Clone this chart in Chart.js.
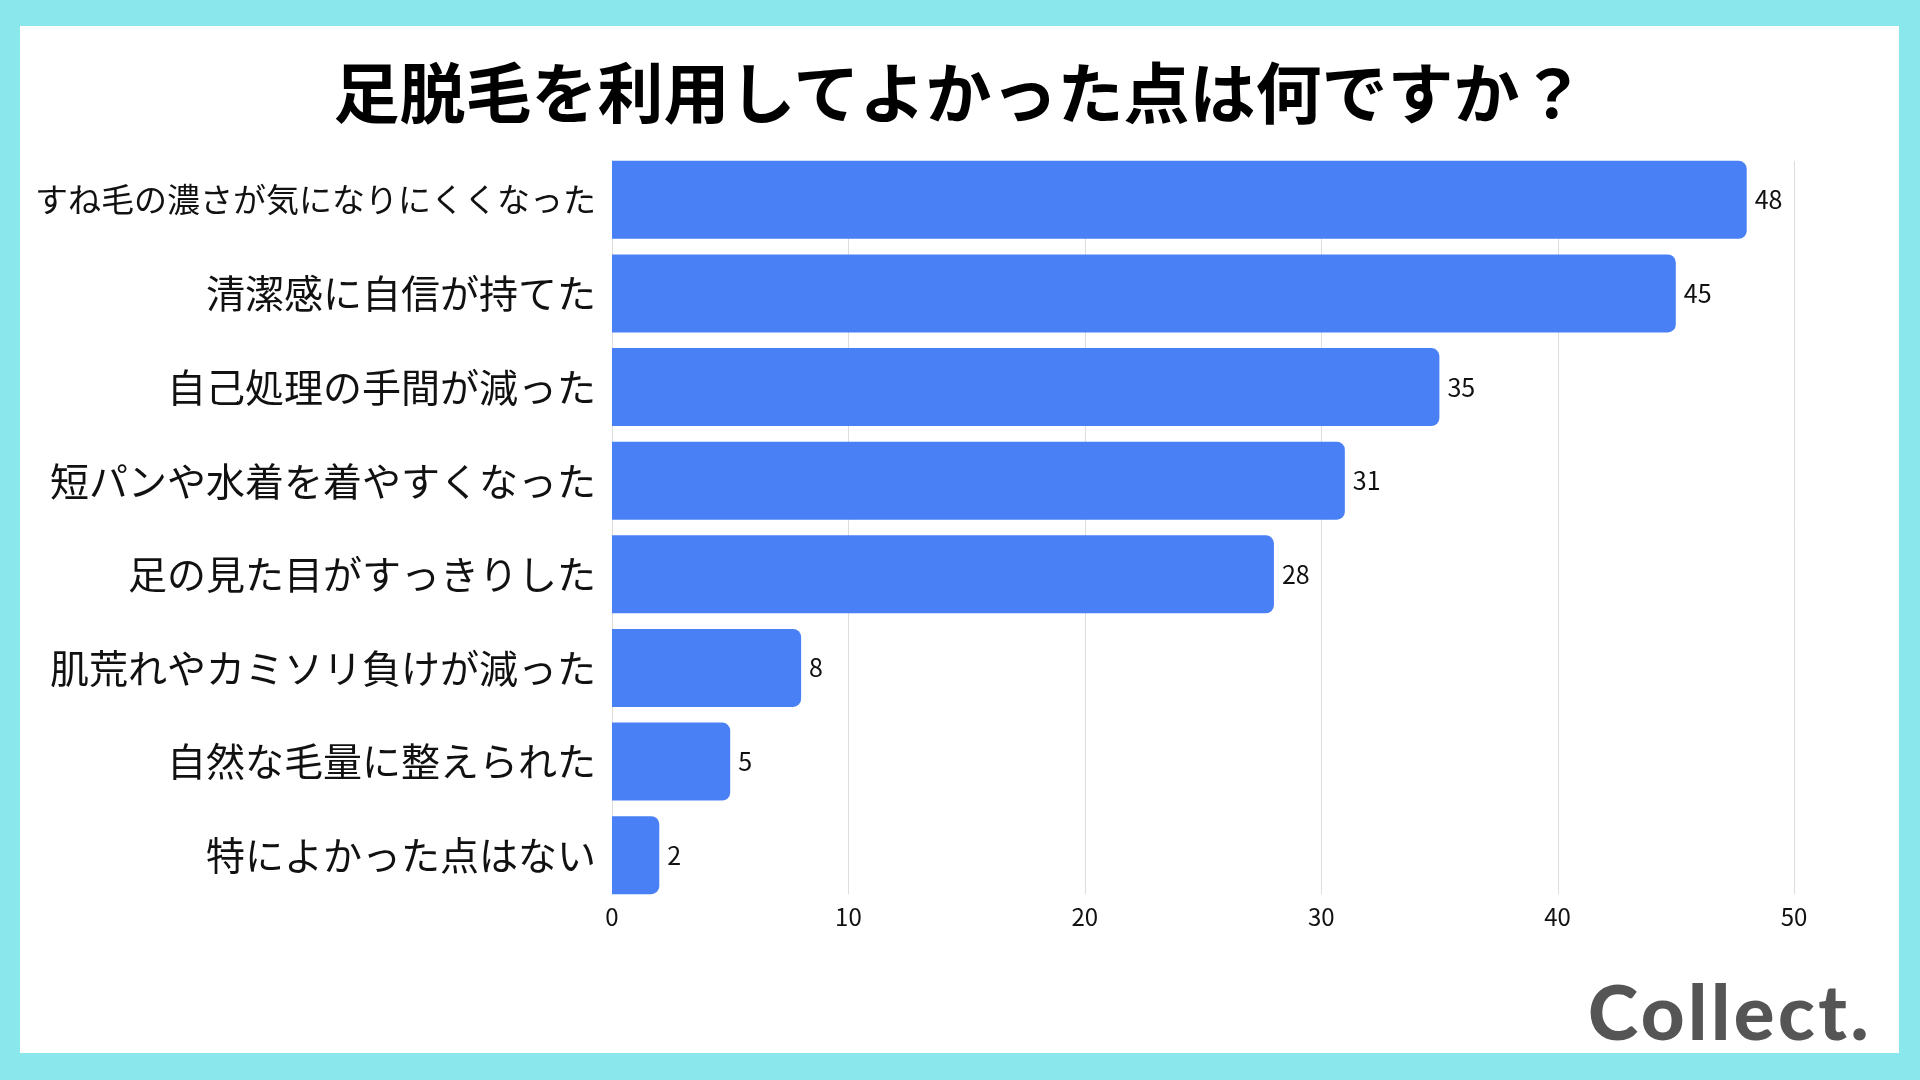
<!DOCTYPE html>
<html lang="ja">
<head>
<meta charset="utf-8">
<title>足脱毛を利用してよかった点は何ですか？</title>
<script src="https://cdn.jsdelivr.net/npm/chart.js@4.4.1/dist/chart.umd.min.js"></script>
<style>
    html, body { margin: 0; padding: 0; }
    body {
        width: 1920px;
        height: 1080px;
        background: #8ae8ec;
        position: relative;
        overflow: hidden;
        font-family: 'Noto Sans CJK JP', sans-serif;
    }
    .panel {
        position: absolute;
        left: 20px;
        top: 26px;
        width: 1879px;
        height: 1027px;
        background: #ffffff;
    }
    .panel canvas { position: absolute; left: 0; top: 0; }
    .title {
        position: absolute;
        left: 0;
        top: 24px;
        width: 1879px;
        margin: 0;
        text-align: center;
        font-size: 66px;
        line-height: 79px;
        font-weight: bold;
        color: #000000;
    }
    .logo {
        position: absolute;
        right: 48px;
        top: 973px;
        font-family: Lato, sans-serif;
        font-weight: 900;
        font-size: 76px;
        line-height: 76px;
        letter-spacing: 3.5px;
        color: #555555;
    }
</style>
</head>
<body>
<div class="panel">
    <canvas id="meritChart"></canvas>
    <h1 class="title" id="chartTitle"></h1>
</div>
<div class="logo">Collect.</div>

<script>
// survey answers, top to bottom
const categories = [
    'すね毛の濃さが気になりにくくなった',
    '清潔感に自信が持てた',
    '自己処理の手間が減った',
    '短パンや水着を着やすくなった',
    '足の見た目がすっきりした',
    '肌荒れやカミソリ負けが減った',
    '自然な毛量に整えられた',
    '特によかった点はない'
];
const answerCounts = [48, 45, 35, 31, 28, 8, 5, 2];

// x axis ticks 0..50
const axisMin = 0;
const axisMax = 50;
const axisStep = 10;

const chartTitle = '足脱毛を利用してよかった点は何ですか？';
document.getElementById('chartTitle').textContent = chartTitle;

Chart.defaults.font.family = "'Noto Sans CJK JP', sans-serif";
Chart.defaults.color = '#111111';

// vertical grid lines only as tall as the bar stack
const barGrid = {
    id: 'barGrid',
    beforeDatasetsDraw(chart) {
        const ctx = chart.ctx;
        const xScale = chart.scales.x;
        const bars = chart.getDatasetMeta(0).data;
        const top = bars[0].y - bars[0].height / 2;
        const last = bars[bars.length - 1];
        const bottom = last.y + last.height / 2;
        ctx.save();
        ctx.strokeStyle = '#dddddd';
        ctx.lineWidth = 1;
        xScale.ticks.forEach(t => {
            const x = Math.round(xScale.getPixelForValue(t.value)) + 0.5;
            ctx.beginPath();
            ctx.moveTo(x, top);
            ctx.lineTo(x, bottom);
            ctx.stroke();
        });
        ctx.restore();
    }
};

// number at the end of each bar
const valueLabels = {
    id: 'valueLabels',
    afterDatasetsDraw(chart) {
        const ctx = chart.ctx;
        const meta = chart.getDatasetMeta(0);
        ctx.save();
        ctx.font = "25px 'Noto Sans CJK JP', sans-serif";
        ctx.fillStyle = '#111111';
        ctx.textAlign = 'left';
        ctx.textBaseline = 'middle';
        meta.data.forEach((bar, i) => {
            ctx.fillText(String(chart.data.datasets[0].data[i]), bar.x + 8, bar.y);
        });
        ctx.restore();
    }
};

const canvas = document.getElementById('meritChart');
canvas.width = 1879;
canvas.height = 1027;

new Chart(canvas, {
    type: 'bar',
    data: {
        labels: categories,
        datasets: [{
            data: answerCounts,
            backgroundColor: '#4a80f5',
            borderRadius: 8,
            borderSkipped: 'start',
            barPercentage: 0.833,
            categoryPercentage: 1
        }]
    },
    options: {
        indexAxis: 'y',
        responsive: false,
        animation: false,
        devicePixelRatio: 1,
        layout: { padding: { top: 127, left: 0, right: 105, bottom: 121 } },
        plugins: {
            legend: { display: false },
            tooltip: { enabled: false },
            title: { display: false }
        },
        scales: {
            x: {
                min: axisMin,
                max: axisMax,
                border: { display: false },
                grid: { display: false, drawTicks: false },
                ticks: {
                    stepSize: axisStep,
                    padding: 0,
                    color: '#111111',
                    font: { size: 24 }
                },
                afterFit(scale) { scale.height = 30; }
            },
            y: {
                border: { display: false },
                grid: { display: false, drawTicks: false },
                ticks: {
                    padding: 16,
                    color: '#111111',
                    autoSkip: false,
                    font: (ctx) => ({ size: ctx.index === 0 ? 33 : 39 })
                },
                afterFit(scale) { scale.width = 592; }
            }
        }
    },
    plugins: [barGrid, valueLabels]
});
</script>
</body>
</html>
